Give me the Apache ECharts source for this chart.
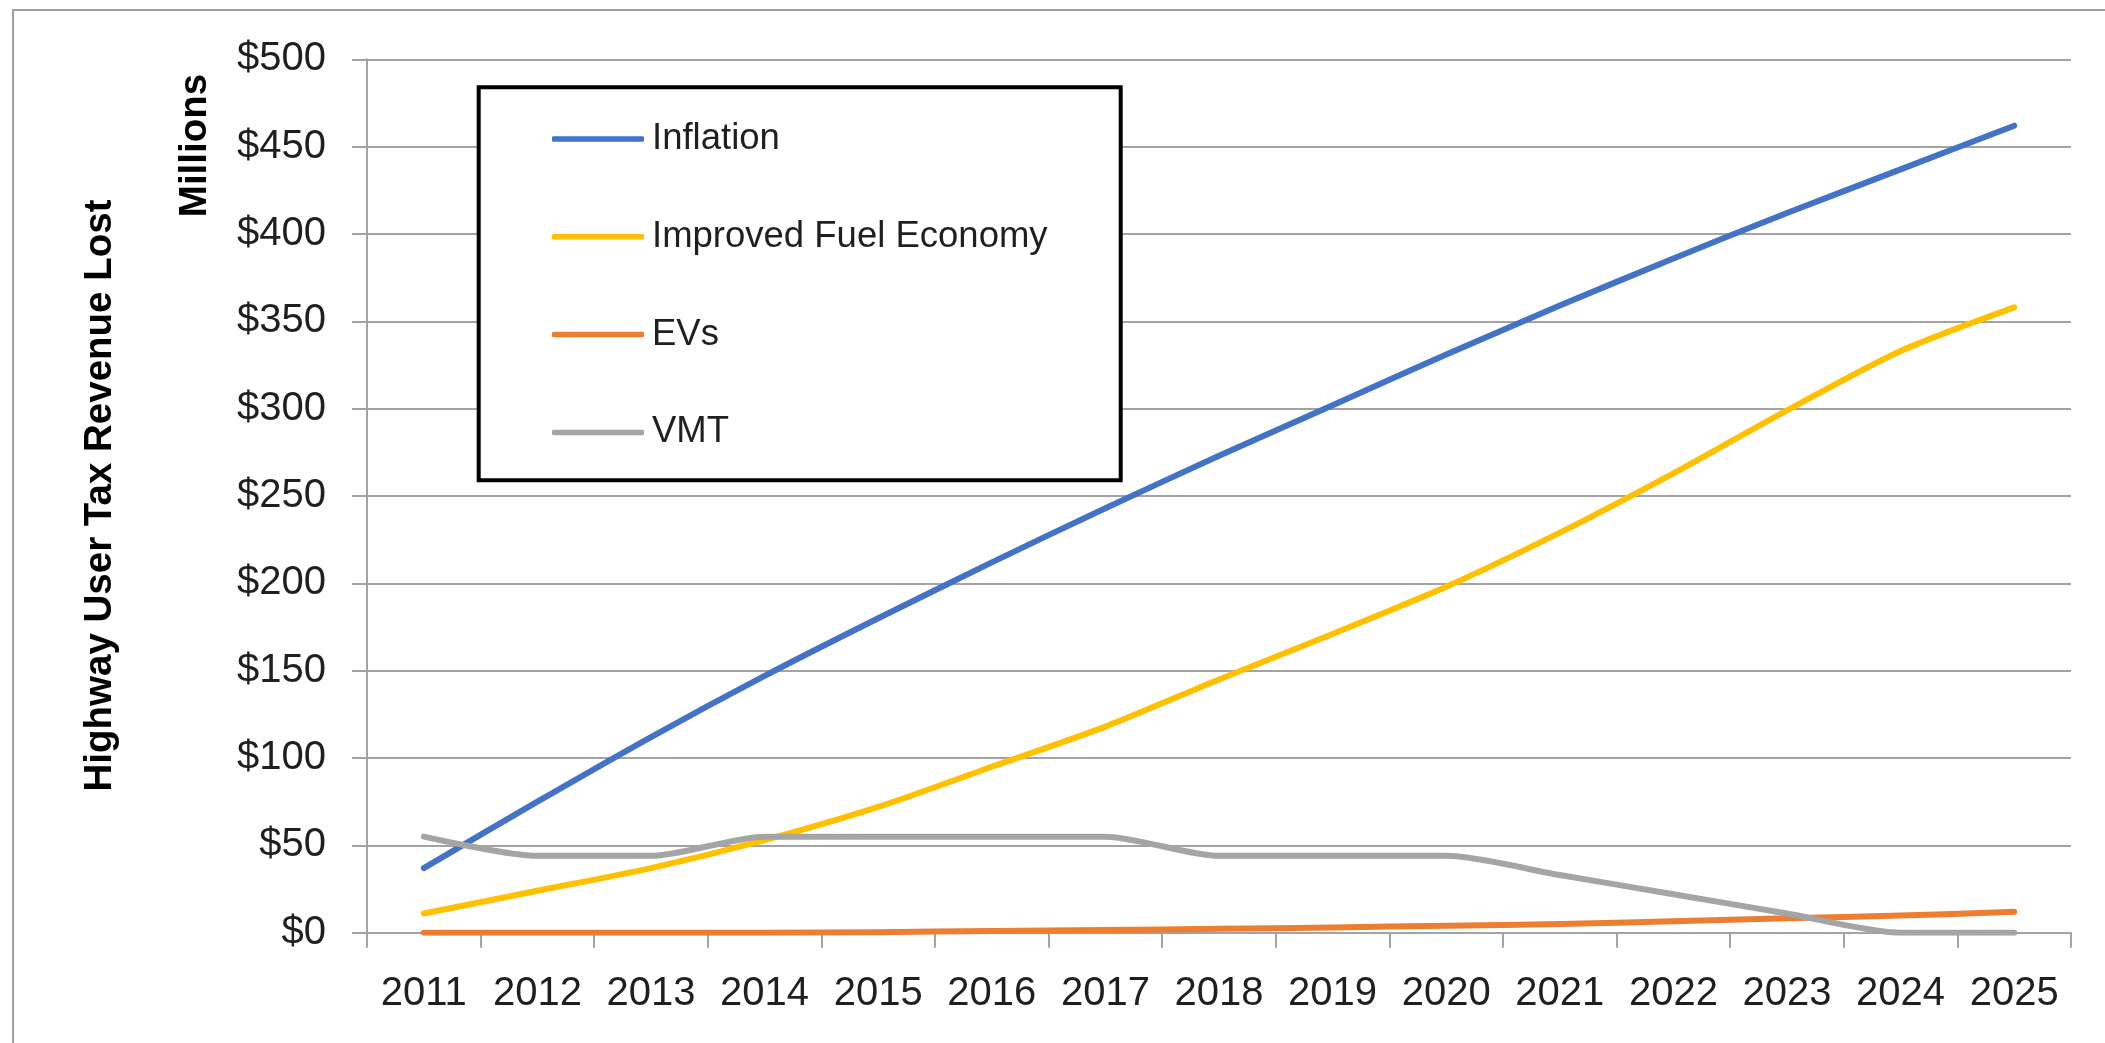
<!DOCTYPE html>
<html>
<head>
<meta charset="utf-8">
<script src="https://cdn.jsdelivr.net/npm/echarts@6/dist/echarts.min.js"></script>
<style>
html,body{margin:0;padding:0;background:#fff;}
#chart{width:2105px;height:1043px;}
</style>
</head>
<body>
<div id="chart"></div>
<script>
const years = ['2011','2012','2013','2014','2015','2016','2017','2018','2019','2020','2021','2022','2023','2024','2025'];
const inflation = [37, 75, 112, 147, 180, 212, 243, 273, 302, 331, 359, 386, 412, 437, 462];
const fuelEconomy = [11, 24, 37, 53, 72, 95, 118, 145, 171, 198, 229, 263, 299, 333, 358];
const evs = [0, 0, 0, 0, 0.3, 1, 1.5, 2.2, 3, 4, 5, 6.5, 8.3, 9.8, 12];
const vmt = [55, 44, 44, 55, 55, 55, 55, 44, 44, 44, 33, 22, 11, 0, 0];
const seriesNames = ['Inflation', 'Improved Fuel Economy', 'EVs', 'VMT'];
const seriesColors = ['#4472C4', '#FFC000', '#ED7D31', '#A5A5A5'];
const yTitle = 'Highway User Tax Revenue Lost';
const yUnit = 'Millions';

const FONT = "'Liberation Sans', Arial, sans-serif";
const chart = echarts.init(document.getElementById('chart'), null, {renderer: 'canvas'});
const dataSets = [inflation, fuelEconomy, evs, vmt];
const gridColor = '#a3a3a3';

chart.setOption({
  animation: false,
  backgroundColor: '#ffffff',
  grid: {left: 367, top: 59.3, width: 1704, height: 873.4, containLabel: false},
  xAxis: {
    type: 'category',
    data: years,
    boundaryGap: true,
    axisLine: {show: true, lineStyle: {color: gridColor, width: 2}},
    axisTick: {show: true, length: 15, lineStyle: {color: gridColor, width: 2}},
    axisLabel: {margin: 41, fontSize: 40, fontFamily: FONT, color: '#1f1f1f', interval: 0}
  },
  yAxis: {
    type: 'value',
    min: 0, max: 500, interval: 50,
    axisLine: {show: true, lineStyle: {color: gridColor, width: 2}},
    axisTick: {show: true, length: 15, lineStyle: {color: gridColor, width: 2}},
    splitLine: {show: true, lineStyle: {color: gridColor, width: 2}},
    axisLabel: {margin: 41, fontSize: 40, fontFamily: FONT, color: '#1f1f1f', formatter: v => '$' + v}
  },
  legend: {
    orient: 'vertical',
    left: 552, top: 119,
    padding: 0,
    icon: 'roundRect',
    itemWidth: 92, itemHeight: 5.5,
    itemGap: 57.8,
    z: 30,
    textStyle: {fontSize: 36.5, lineHeight: 40, fontFamily: FONT, color: '#1f1f1f', padding: [0, 0, 0, 3]},
    data: seriesNames
  },
  graphic: [
    {type: 'rect', z: -10, silent: true, shape: {x: 13, y: 10, width: 2300, height: 1200}, style: {fill: 'none', stroke: '#a0a0a0', lineWidth: 2}},
    {type: 'rect', z: 10, silent: true, shape: {x: 478.7, y: 87.2, width: 642, height: 393}, style: {fill: '#ffffff', stroke: '#000000', lineWidth: 4}},
    {type: 'text', z: 10, silent: true, x: 195, y: 145.5, rotation: Math.PI / 2,
      style: {text: yUnit, fontSize: 38.5, fontWeight: 'bold', fontFamily: FONT, fill: '#000000', align: 'center', verticalAlign: 'middle'}},
    {type: 'text', z: 10, silent: true, x: 100, y: 495.5, rotation: Math.PI / 2,
      style: {text: yTitle, fontSize: 38.5, fontWeight: 'bold', fontFamily: FONT, fill: '#000000', align: 'center', verticalAlign: 'middle'}}
  ],
  series: seriesNames.map((n, i) => ({
    name: n,
    type: 'line',
    data: dataSets[i],
    symbol: 'none',
    smooth: 0.25,
    z: 5 + i,
    lineStyle: {color: seriesColors[i], width: 6, cap: 'round', join: 'round'},
    itemStyle: {color: seriesColors[i]}
  }))
});
</script>
</body>
</html>
